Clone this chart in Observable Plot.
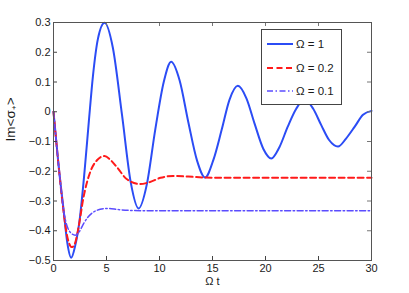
<!DOCTYPE html>
<html><head><meta charset="utf-8">
<script src="https://cdn.jsdelivr.net/npm/d3@7"></script>
<script src="https://cdn.jsdelivr.net/npm/@observablehq/plot@0.6"></script>
<style>
body{margin:0;background:#fff;}
#wrap{position:relative;width:409px;height:293px;font-family:"Liberation Sans",Arial,sans-serif;}
#legend{position:absolute;left:261px;top:29px;width:81px;height:76px;box-sizing:border-box;border:1px solid #444;background:#fff;}
</style></head><body><div id="wrap"></div>
<script>
// Ω = 1
const blueT = [0,0.45,0.95,1.3,1.67,2.05,2.46,2.93,3.34,3.72,4.19,4.82,5.6,6.46,7.3,8.03,8.8,9.6,10.4,11.1,11.9,12.72,13.55,14.3,15.1,15.87,16.6,17.39,18.2,18.97,19.8,20.55,21.3,22.1,22.9,23.68,24.5,25.26,26.0,26.84,27.6,28.42,29.2,30];
const blueV = [0,-0.17,-0.33,-0.44,-0.491,-0.45,-0.365,-0.2,-0.03,0.12,0.245,0.299,0.215,-0.01,-0.24,-0.325,-0.245,-0.06,0.1,0.168,0.105,-0.035,-0.165,-0.221,-0.16,-0.06,0.04,0.087,0.045,-0.04,-0.125,-0.157,-0.12,-0.05,0.01,0.042,0.01,-0.045,-0.095,-0.117,-0.09,-0.05,-0.01,0.003];
// Ω = 0.2
const redT = [0,0.45,0.95,1.3,1.74,2.05,2.37,2.84,3.47,4.1,4.8,5.4,6.0,6.9,8.15,9.2,10.1,11.3,12.7,14.2,17,20,30];
const redV = [0,-0.17,-0.335,-0.42,-0.455,-0.44,-0.387,-0.286,-0.202,-0.163,-0.149,-0.163,-0.187,-0.226,-0.243,-0.235,-0.222,-0.216,-0.218,-0.221,-0.222,-0.222,-0.222];
// Ω = 0.1
const purpleT = [0,0.45,0.95,1.1,1.58,2.05,2.4,2.84,3.3,3.78,4.4,5.05,6.15,7.5,9,30];
const purpleV = [0,-0.17,-0.33,-0.36,-0.405,-0.415,-0.405,-0.376,-0.352,-0.337,-0.328,-0.325,-0.329,-0.332,-0.333,-0.333];

const seriesNames = ["Ω = 1","Ω = 0.2","Ω = 0.1"];
const seriesColors = ["#2b4cf5","#ff1a1a","#5b4cff"];
const seriesDash = [null,"6,3.5","6,2.5,1.5,2.5"];
const seriesWidth = [2,2,1.5];
const seriesT = [blueT, redT, purpleT];
const seriesV = [blueV, redV, purpleV];

const xTicks = [0,5,10,15,20,25,30];
const yTicks = [-0.5,-0.4,-0.3,-0.2,-0.1,0,0.1,0.2,0.3];
const xLabel = "Ω t";
const yLabel = "Im<σ₊>";

const rows = seriesNames.flatMap((n,k) => seriesT[k].map((t,i) => ({series:n, t, v:seriesV[k][i]})));

const W=409,H=293,mL=53,mR=38,mT=22,mB=33;
const pw=W-mL-mR, ph=H-mT-mB;
const fmt = d => d === 0 ? "0" : d3.format(".1f")(d);

const chart = Plot.plot({
  width:W, height:H, marginLeft:mL, marginRight:mR, marginTop:mT, marginBottom:mB,
  style:{fontFamily:'"Liberation Sans",Arial,sans-serif', fontSize:"11px", color:"#1a1a1a", background:"#fff", overflow:"visible"},
  x:{domain:[0,30]},
  y:{domain:[-0.5,0.3]},
  marks:[
    ...seriesNames.map((n,k) => Plot.line(rows.filter(r => r.series===n), {
      x:"t", y:"v", stroke:seriesColors[k], strokeWidth:seriesWidth[k],
      strokeDasharray:seriesDash[k], curve:"monotone-x"})),
    Plot.tickX(xTicks,{x:d=>d, insetTop:ph-4, stroke:"#444"}),
    Plot.tickX(xTicks,{x:d=>d, insetBottom:ph-4, stroke:"#777"}),
    Plot.tickY(yTicks,{y:d=>d, insetRight:pw-4, stroke:"#444"}),
    Plot.tickY(yTicks,{y:d=>d, insetLeft:pw-4, stroke:"#777"}),
    Plot.axisX(xTicks,{tickSize:0, tickPadding:4, label:null}),
    Plot.axisY(yTicks,{tickSize:0, tickPadding:3, label:null, tickFormat:fmt}),
    Plot.frame({stroke:"#555"}),
    Plot.text([xLabel],{frameAnchor:"bottom", dy:24, fontSize:11}),
    Plot.text([yLabel],{frameAnchor:"left", rotate:-90, dx:-43, dy:0, fontSize:13.5})
  ]
});

const wrap = document.getElementById("wrap");
wrap.appendChild(chart);

// legend
const leg = d3.select(wrap).append("div").attr("id","legend");
const lsvg = leg.append("svg").attr("width",79).attr("height",74).style("display","block");
const rowY = [14,38,61];
seriesNames.forEach((n,k) => {
  lsvg.append("line").attr("x1",5).attr("x2",31).attr("y1",rowY[k]).attr("y2",rowY[k])
    .attr("stroke",seriesColors[k]).attr("stroke-width",seriesWidth[k])
    .attr("stroke-dasharray",seriesDash[k]);
  lsvg.append("text").attr("x",34).attr("y",rowY[k]).attr("dy","0.35em")
    .attr("font-size",11.5).attr("fill","#1a1a1a")
    .style("font-family",'"Liberation Sans",Arial,sans-serif').text(n);
});
</script>
</body></html>
